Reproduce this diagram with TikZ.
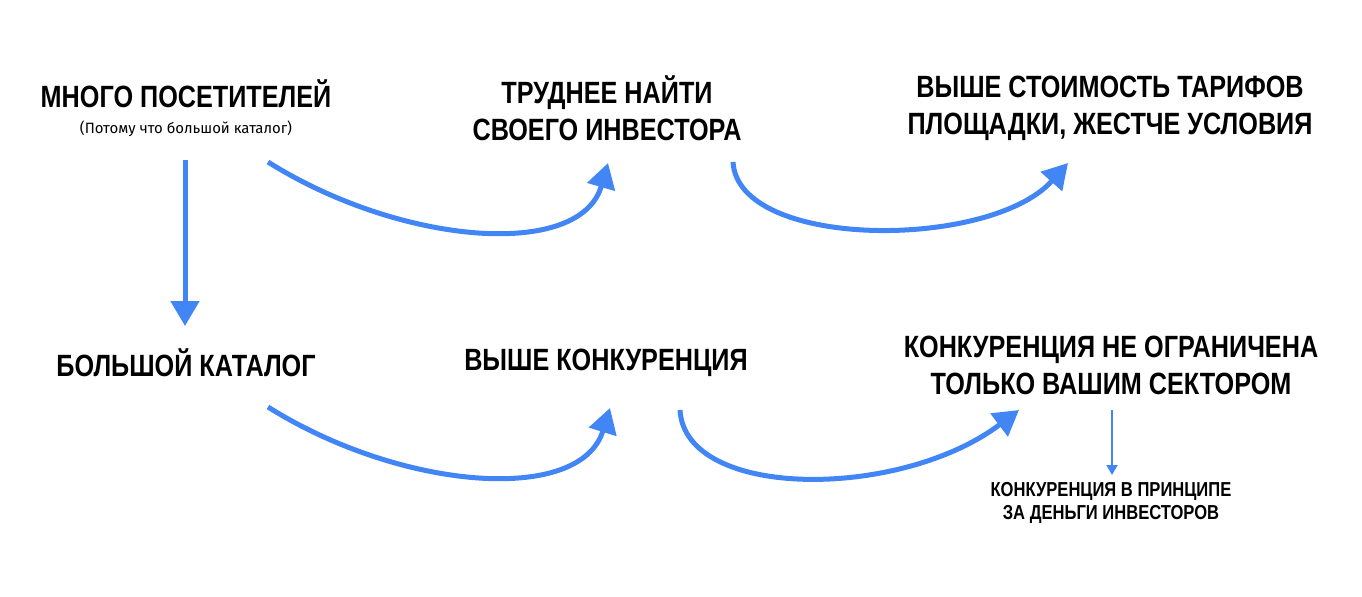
\documentclass[tikz,border=0pt]{standalone}
\usepackage{fontspec}
\setmainfont{Liberation Sans}[FakeStretch=0.82]
\newfontfamily\notefont{Fira Sans}
\usetikzlibrary{arrows.meta}
\definecolor{arrowblue}{RGB}{66,133,244}
\begin{document}
\begin{tikzpicture}[x=0.02cm,y=-0.02cm,
	box/.style={font=\bfseries\fontsize{17.5}{21}\selectfont, align=center, inner sep=0pt},
	note/.style={font=\notefont\fontsize{8.5}{10}\selectfont, inner sep=0pt},
	subbox/.style={font=\bfseries\fontsize{11.5}{13.5}\selectfont, align=center, inner sep=0pt},
	flow/.style={arrowblue, line width=0.1cm, -{Triangle[length=0.5cm,width=0.56cm]}},
	thinflow/.style={arrowblue, line width=0.04cm, -{Triangle[length=0.2cm,width=0.22cm]}}]
	\useasboundingbox (0,0) rectangle (1362,597);
	% upper row
	\node[box] (visitors) at (186,94) {МНОГО ПОСЕТИТЕЛЕЙ};
	\node[note] (reason) at (186,129) {(Потому что большой каталог)};
	\node[box] (harder) at (607,108) {ТРУДНЕЕ НАЙТИ\\СВОЕГО ИНВЕСТОРА};
	\node[box] (price) at (1110,108) {ВЫШЕ СТОИМОСТЬ ТАРИФОВ\\ПЛОЩАДКИ, ЖЕСТЧЕ УСЛОВИЯ};
	% lower row
	\node[box] (catalog) at (186,363) {БОЛЬШОЙ КАТАЛОГ};
	\node[box] (compete) at (606,363) {ВЫШЕ КОНКУРЕНЦИЯ};
	\node[box] (sector) at (1111,365) {КОНКУРЕНЦИЯ НЕ ОГРАНИЧЕНА\\ТОЛЬКО ВАШИМ СЕКТОРОМ};
	\node[subbox] (money) at (1111,503) {КОНКУРЕНЦИЯ В ПРИНЦИПЕ\\ЗА ДЕНЬГИ ИНВЕСТОРОВ};
	
	\coordinate (v1) at (185,160);   \coordinate (v2) at (185,326);
	\coordinate (a1) at (268,162);   \coordinate (b1) at (608,163);
	\coordinate (a2) at (733,162);   \coordinate (b2) at (1068,163);
	\coordinate (a3) at (268,407);   \coordinate (b3) at (610,408);
	\coordinate (a4) at (680,410);   \coordinate (b4) at (1019,410);
	\coordinate (s1) at (1112,410);  \coordinate (s2) at (1112,475);
	
	\draw[flow] (v1) -- (v2);
	\draw[flow] (a1) .. controls (400,245) and (580,260) .. (b1);
	\draw[flow] (a2) .. controls (738,250) and (990,250) .. (b2);
	\draw[flow] (a3) .. controls (400,490) and (580,505) .. (b3);
	\draw[flow] (a4) .. controls (685,500) and (900,500) .. (b4);
	\draw[thinflow] (s1) -- (s2);
\end{tikzpicture}
\end{document}
